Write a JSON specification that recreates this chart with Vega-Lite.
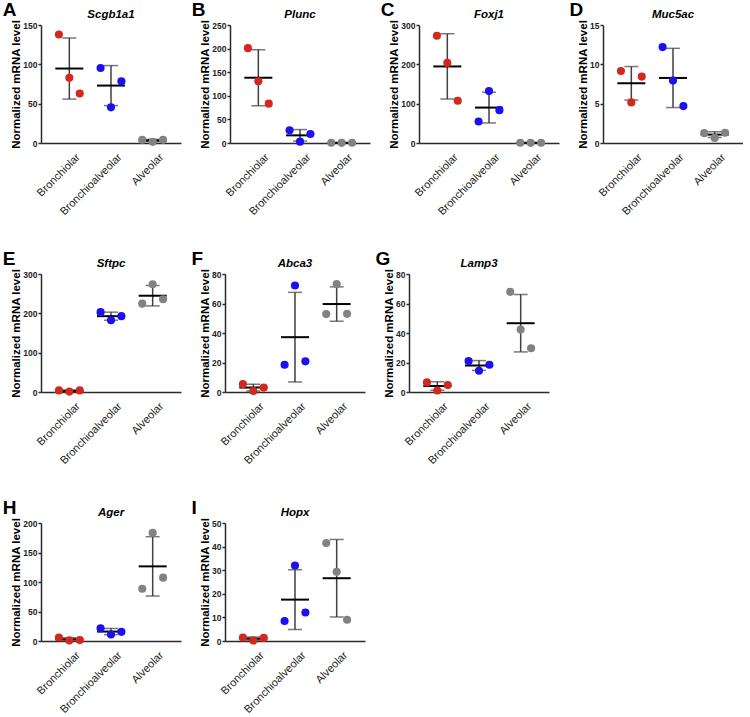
{
  "$schema": "https://vega.github.io/schema/vega-lite/v6.json",
  "background": "white",
  "padding": {"left": 2, "top": 0, "right": 0, "bottom": 0},
  "data": {"values": [
    {"gene": "Scgb1a1", "group": "Bronchiolar", "rep": 1, "value": 138},
    {"gene": "Scgb1a1", "group": "Bronchiolar", "rep": 2, "value": 83},
    {"gene": "Scgb1a1", "group": "Bronchiolar", "rep": 3, "value": 63},
    {"gene": "Scgb1a1", "group": "Bronchioalveolar", "rep": 1, "value": 95.3},
    {"gene": "Scgb1a1", "group": "Bronchioalveolar", "rep": 2, "value": 45.3},
    {"gene": "Scgb1a1", "group": "Bronchioalveolar", "rep": 3, "value": 78.4},
    {"gene": "Scgb1a1", "group": "Alveolar", "rep": 1, "value": 4},
    {"gene": "Scgb1a1", "group": "Alveolar", "rep": 2, "value": 1.5},
    {"gene": "Scgb1a1", "group": "Alveolar", "rep": 3, "value": 4},
    {"gene": "Plunc", "group": "Bronchiolar", "rep": 1, "value": 201},
    {"gene": "Plunc", "group": "Bronchiolar", "rep": 2, "value": 130.6},
    {"gene": "Plunc", "group": "Bronchiolar", "rep": 3, "value": 83.3},
    {"gene": "Plunc", "group": "Bronchioalveolar", "rep": 1, "value": 26.8},
    {"gene": "Plunc", "group": "Bronchioalveolar", "rep": 2, "value": 2.8},
    {"gene": "Plunc", "group": "Bronchioalveolar", "rep": 3, "value": 19},
    {"gene": "Plunc", "group": "Alveolar", "rep": 1, "value": 0.5},
    {"gene": "Plunc", "group": "Alveolar", "rep": 2, "value": 0.3},
    {"gene": "Plunc", "group": "Alveolar", "rep": 3, "value": 0.5},
    {"gene": "Foxj1", "group": "Bronchiolar", "rep": 1, "value": 272.8},
    {"gene": "Foxj1", "group": "Bronchiolar", "rep": 2, "value": 203.7},
    {"gene": "Foxj1", "group": "Bronchiolar", "rep": 3, "value": 107.4},
    {"gene": "Foxj1", "group": "Bronchioalveolar", "rep": 1, "value": 54.6},
    {"gene": "Foxj1", "group": "Bronchioalveolar", "rep": 2, "value": 132},
    {"gene": "Foxj1", "group": "Bronchioalveolar", "rep": 3, "value": 83.5},
    {"gene": "Foxj1", "group": "Alveolar", "rep": 1, "value": 0.6},
    {"gene": "Foxj1", "group": "Alveolar", "rep": 2, "value": 0.4},
    {"gene": "Foxj1", "group": "Alveolar", "rep": 3, "value": 0.6},
    {"gene": "Muc5ac", "group": "Bronchiolar", "rep": 1, "value": 9.16},
    {"gene": "Muc5ac", "group": "Bronchiolar", "rep": 2, "value": 5.16},
    {"gene": "Muc5ac", "group": "Bronchiolar", "rep": 3, "value": 8.44},
    {"gene": "Muc5ac", "group": "Bronchioalveolar", "rep": 1, "value": 12.19},
    {"gene": "Muc5ac", "group": "Bronchioalveolar", "rep": 2, "value": 7.93},
    {"gene": "Muc5ac", "group": "Bronchioalveolar", "rep": 3, "value": 4.69},
    {"gene": "Muc5ac", "group": "Alveolar", "rep": 1, "value": 1.25},
    {"gene": "Muc5ac", "group": "Alveolar", "rep": 2, "value": 0.65},
    {"gene": "Muc5ac", "group": "Alveolar", "rep": 3, "value": 1.3},
    {"gene": "Sftpc", "group": "Bronchiolar", "rep": 1, "value": 4},
    {"gene": "Sftpc", "group": "Bronchiolar", "rep": 2, "value": 1},
    {"gene": "Sftpc", "group": "Bronchiolar", "rep": 3, "value": 4},
    {"gene": "Sftpc", "group": "Bronchioalveolar", "rep": 1, "value": 203},
    {"gene": "Sftpc", "group": "Bronchioalveolar", "rep": 2, "value": 182.5},
    {"gene": "Sftpc", "group": "Bronchioalveolar", "rep": 3, "value": 192.8},
    {"gene": "Sftpc", "group": "Alveolar", "rep": 1, "value": 224.6},
    {"gene": "Sftpc", "group": "Alveolar", "rep": 2, "value": 274},
    {"gene": "Sftpc", "group": "Alveolar", "rep": 3, "value": 235.7},
    {"gene": "Abca3", "group": "Bronchiolar", "rep": 1, "value": 5.3},
    {"gene": "Abca3", "group": "Bronchiolar", "rep": 2, "value": 0.7},
    {"gene": "Abca3", "group": "Bronchiolar", "rep": 3, "value": 3.0},
    {"gene": "Abca3", "group": "Bronchioalveolar", "rep": 1, "value": 18.5},
    {"gene": "Abca3", "group": "Bronchioalveolar", "rep": 2, "value": 72.2},
    {"gene": "Abca3", "group": "Bronchioalveolar", "rep": 3, "value": 20.8},
    {"gene": "Abca3", "group": "Alveolar", "rep": 1, "value": 52.8},
    {"gene": "Abca3", "group": "Alveolar", "rep": 2, "value": 73.1},
    {"gene": "Abca3", "group": "Alveolar", "rep": 3, "value": 53},
    {"gene": "Lamp3", "group": "Bronchiolar", "rep": 1, "value": 6.5},
    {"gene": "Lamp3", "group": "Bronchiolar", "rep": 2, "value": 1.0},
    {"gene": "Lamp3", "group": "Bronchiolar", "rep": 3, "value": 4.7},
    {"gene": "Lamp3", "group": "Bronchioalveolar", "rep": 1, "value": 21},
    {"gene": "Lamp3", "group": "Bronchioalveolar", "rep": 2, "value": 14.4},
    {"gene": "Lamp3", "group": "Bronchioalveolar", "rep": 3, "value": 18.5},
    {"gene": "Lamp3", "group": "Alveolar", "rep": 1, "value": 67.9},
    {"gene": "Lamp3", "group": "Alveolar", "rep": 2, "value": 42.3},
    {"gene": "Lamp3", "group": "Alveolar", "rep": 3, "value": 29.7},
    {"gene": "Ager", "group": "Bronchiolar", "rep": 1, "value": 6},
    {"gene": "Ager", "group": "Bronchiolar", "rep": 2, "value": 1},
    {"gene": "Ager", "group": "Bronchiolar", "rep": 3, "value": 1.5},
    {"gene": "Ager", "group": "Bronchioalveolar", "rep": 1, "value": 21.5},
    {"gene": "Ager", "group": "Bronchioalveolar", "rep": 2, "value": 11},
    {"gene": "Ager", "group": "Bronchioalveolar", "rep": 3, "value": 15.5},
    {"gene": "Ager", "group": "Alveolar", "rep": 1, "value": 88.6},
    {"gene": "Ager", "group": "Alveolar", "rep": 2, "value": 183.5},
    {"gene": "Ager", "group": "Alveolar", "rep": 3, "value": 107.4},
    {"gene": "Hopx", "group": "Bronchiolar", "rep": 1, "value": 1.5},
    {"gene": "Hopx", "group": "Bronchiolar", "rep": 2, "value": 0.2},
    {"gene": "Hopx", "group": "Bronchiolar", "rep": 3, "value": 1.3},
    {"gene": "Hopx", "group": "Bronchioalveolar", "rep": 1, "value": 8.5},
    {"gene": "Hopx", "group": "Bronchioalveolar", "rep": 2, "value": 32},
    {"gene": "Hopx", "group": "Bronchioalveolar", "rep": 3, "value": 12.1},
    {"gene": "Hopx", "group": "Alveolar", "rep": 1, "value": 41.5},
    {"gene": "Hopx", "group": "Alveolar", "rep": 2, "value": 29.3},
    {"gene": "Hopx", "group": "Alveolar", "rep": 3, "value": 9}
  ]},
  "spacing": 32,
  "vconcat": [
    {"spacing": 10, "hconcat": [
      {"title": {"text": "A", "anchor": "start", "frame": "bounds", "fontSize": 19, "fontStyle": "normal", "fontWeight": "bold", "offset": -11, "dx": -8},
       "vconcat": [{"width": 140, "height": 118, "title": "Scgb1a1",
        "transform": [{"filter": "datum.gene === 'Scgb1a1'"}],
        "encoding": {"x": {"field": "group", "type": "nominal", "sort": ["Bronchiolar", "Bronchioalveolar", "Alveolar"], "title": null, "scale": {"domain": ["Bronchiolar", "Bronchioalveolar", "Alveolar"], "paddingInner": 0.5, "paddingOuter": 0.43}}},
        "layer": [
          {"mark": {"type": "errorbar", "extent": "stdev", "color": "#404040", "thickness": 1.5, "ticks": {"size": 14}}, "encoding": {"y": {"field": "value", "type": "quantitative", "title": "Normalized mRNA level", "scale": {"domain": [0, 150], "nice": false}, "axis": {"values": [0, 50, 100, 150]}}}},
          {"mark": {"type": "tick", "color": "black", "thickness": 2, "size": 28}, "encoding": {"y": {"aggregate": "mean", "field": "value", "type": "quantitative", "title": "Normalized mRNA level", "axis": {"values": [0, 50, 100, 150]}}}},
          {"mark": {"type": "point", "filled": true, "size": 66, "opacity": 1}, "encoding": {"y": {"field": "value", "type": "quantitative", "title": "Normalized mRNA level", "axis": {"values": [0, 50, 100, 150]}}, "xOffset": {"field": "rep", "type": "nominal", "scale": {"paddingInner": 0, "paddingOuter": 0}}, "color": {"field": "group", "type": "nominal", "scale": {"domain": ["Bronchiolar", "Bronchioalveolar", "Alveolar"], "range": ["#d2281e", "#1c10f0", "#828282"]}, "legend": null}}}
        ]}]},
      {"title": {"text": "B", "anchor": "start", "frame": "bounds", "fontSize": 19, "fontStyle": "normal", "fontWeight": "bold", "offset": -11, "dx": -8},
       "vconcat": [{"width": 140, "height": 118, "title": "Plunc",
        "transform": [{"filter": "datum.gene === 'Plunc'"}],
        "encoding": {"x": {"field": "group", "type": "nominal", "sort": ["Bronchiolar", "Bronchioalveolar", "Alveolar"], "title": null, "scale": {"domain": ["Bronchiolar", "Bronchioalveolar", "Alveolar"], "paddingInner": 0.5, "paddingOuter": 0.43}}},
        "layer": [
          {"mark": {"type": "errorbar", "extent": "stdev", "color": "#404040", "thickness": 1.5, "ticks": {"size": 14}}, "encoding": {"y": {"field": "value", "type": "quantitative", "title": "Normalized mRNA level", "scale": {"domain": [0, 250], "nice": false}, "axis": {"values": [0, 50, 100, 150, 200, 250]}}}},
          {"mark": {"type": "tick", "color": "black", "thickness": 2, "size": 28}, "encoding": {"y": {"aggregate": "mean", "field": "value", "type": "quantitative", "title": "Normalized mRNA level", "axis": {"values": [0, 50, 100, 150, 200, 250]}}}},
          {"mark": {"type": "point", "filled": true, "size": 66, "opacity": 1}, "encoding": {"y": {"field": "value", "type": "quantitative", "title": "Normalized mRNA level", "axis": {"values": [0, 50, 100, 150, 200, 250]}}, "xOffset": {"field": "rep", "type": "nominal", "scale": {"paddingInner": 0, "paddingOuter": 0}}, "color": {"field": "group", "type": "nominal", "scale": {"domain": ["Bronchiolar", "Bronchioalveolar", "Alveolar"], "range": ["#d2281e", "#1c10f0", "#828282"]}, "legend": null}}}
        ]}]},
      {"title": {"text": "C", "anchor": "start", "frame": "bounds", "fontSize": 19, "fontStyle": "normal", "fontWeight": "bold", "offset": -11, "dx": -8},
       "vconcat": [{"width": 140, "height": 118, "title": "Foxj1",
        "transform": [{"filter": "datum.gene === 'Foxj1'"}],
        "encoding": {"x": {"field": "group", "type": "nominal", "sort": ["Bronchiolar", "Bronchioalveolar", "Alveolar"], "title": null, "scale": {"domain": ["Bronchiolar", "Bronchioalveolar", "Alveolar"], "paddingInner": 0.5, "paddingOuter": 0.43}}},
        "layer": [
          {"mark": {"type": "errorbar", "extent": "stdev", "color": "#404040", "thickness": 1.5, "ticks": {"size": 14}}, "encoding": {"y": {"field": "value", "type": "quantitative", "title": "Normalized mRNA level", "scale": {"domain": [0, 300], "nice": false}, "axis": {"values": [0, 100, 200, 300]}}}},
          {"mark": {"type": "tick", "color": "black", "thickness": 2, "size": 28}, "encoding": {"y": {"aggregate": "mean", "field": "value", "type": "quantitative", "title": "Normalized mRNA level", "axis": {"values": [0, 100, 200, 300]}}}},
          {"mark": {"type": "point", "filled": true, "size": 66, "opacity": 1}, "encoding": {"y": {"field": "value", "type": "quantitative", "title": "Normalized mRNA level", "axis": {"values": [0, 100, 200, 300]}}, "xOffset": {"field": "rep", "type": "nominal", "scale": {"paddingInner": 0, "paddingOuter": 0}}, "color": {"field": "group", "type": "nominal", "scale": {"domain": ["Bronchiolar", "Bronchioalveolar", "Alveolar"], "range": ["#d2281e", "#1c10f0", "#828282"]}, "legend": null}}}
        ]}]},
      {"title": {"text": "D", "anchor": "start", "frame": "bounds", "fontSize": 19, "fontStyle": "normal", "fontWeight": "bold", "offset": -11, "dx": -8},
       "vconcat": [{"width": 140, "height": 118, "title": "Muc5ac",
        "transform": [{"filter": "datum.gene === 'Muc5ac'"}],
        "encoding": {"x": {"field": "group", "type": "nominal", "sort": ["Bronchiolar", "Bronchioalveolar", "Alveolar"], "title": null, "scale": {"domain": ["Bronchiolar", "Bronchioalveolar", "Alveolar"], "paddingInner": 0.5, "paddingOuter": 0.43}}},
        "layer": [
          {"mark": {"type": "errorbar", "extent": "stdev", "color": "#404040", "thickness": 1.5, "ticks": {"size": 14}}, "encoding": {"y": {"field": "value", "type": "quantitative", "title": "Normalized mRNA level", "scale": {"domain": [0, 15], "nice": false}, "axis": {"values": [0, 5, 10, 15]}}}},
          {"mark": {"type": "tick", "color": "black", "thickness": 2, "size": 28}, "encoding": {"y": {"aggregate": "mean", "field": "value", "type": "quantitative", "title": "Normalized mRNA level", "axis": {"values": [0, 5, 10, 15]}}}},
          {"mark": {"type": "point", "filled": true, "size": 66, "opacity": 1}, "encoding": {"y": {"field": "value", "type": "quantitative", "title": "Normalized mRNA level", "axis": {"values": [0, 5, 10, 15]}}, "xOffset": {"field": "rep", "type": "nominal", "scale": {"paddingInner": 0, "paddingOuter": 0}}, "color": {"field": "group", "type": "nominal", "scale": {"domain": ["Bronchiolar", "Bronchioalveolar", "Alveolar"], "range": ["#d2281e", "#1c10f0", "#828282"]}, "legend": null}}}
        ]}]}
    ]},
    {"spacing": 10, "hconcat": [
      {"title": {"text": "E", "anchor": "start", "frame": "bounds", "fontSize": 19, "fontStyle": "normal", "fontWeight": "bold", "offset": -11, "dx": -8},
       "vconcat": [{"width": 140, "height": 118, "title": "Sftpc",
        "transform": [{"filter": "datum.gene === 'Sftpc'"}],
        "encoding": {"x": {"field": "group", "type": "nominal", "sort": ["Bronchiolar", "Bronchioalveolar", "Alveolar"], "title": null, "scale": {"domain": ["Bronchiolar", "Bronchioalveolar", "Alveolar"], "paddingInner": 0.5, "paddingOuter": 0.43}}},
        "layer": [
          {"mark": {"type": "errorbar", "extent": "stdev", "color": "#404040", "thickness": 1.5, "ticks": {"size": 14}}, "encoding": {"y": {"field": "value", "type": "quantitative", "title": "Normalized mRNA level", "scale": {"domain": [0, 300], "nice": false}, "axis": {"values": [0, 100, 200, 300]}}}},
          {"mark": {"type": "tick", "color": "black", "thickness": 2, "size": 28}, "encoding": {"y": {"aggregate": "mean", "field": "value", "type": "quantitative", "title": "Normalized mRNA level", "axis": {"values": [0, 100, 200, 300]}}}},
          {"mark": {"type": "point", "filled": true, "size": 66, "opacity": 1}, "encoding": {"y": {"field": "value", "type": "quantitative", "title": "Normalized mRNA level", "axis": {"values": [0, 100, 200, 300]}}, "xOffset": {"field": "rep", "type": "nominal", "scale": {"paddingInner": 0, "paddingOuter": 0}}, "color": {"field": "group", "type": "nominal", "scale": {"domain": ["Bronchiolar", "Bronchioalveolar", "Alveolar"], "range": ["#d2281e", "#1c10f0", "#828282"]}, "legend": null}}}
        ]}]},
      {"title": {"text": "F", "anchor": "start", "frame": "bounds", "fontSize": 19, "fontStyle": "normal", "fontWeight": "bold", "offset": -11, "dx": -8},
       "vconcat": [{"width": 140, "height": 118, "title": "Abca3",
        "transform": [{"filter": "datum.gene === 'Abca3'"}],
        "encoding": {"x": {"field": "group", "type": "nominal", "sort": ["Bronchiolar", "Bronchioalveolar", "Alveolar"], "title": null, "scale": {"domain": ["Bronchiolar", "Bronchioalveolar", "Alveolar"], "paddingInner": 0.5, "paddingOuter": 0.43}}},
        "layer": [
          {"mark": {"type": "errorbar", "extent": "stdev", "color": "#404040", "thickness": 1.5, "ticks": {"size": 14}}, "encoding": {"y": {"field": "value", "type": "quantitative", "title": "Normalized mRNA level", "scale": {"domain": [0, 80], "nice": false}, "axis": {"values": [0, 20, 40, 60, 80]}}}},
          {"mark": {"type": "tick", "color": "black", "thickness": 2, "size": 28}, "encoding": {"y": {"aggregate": "mean", "field": "value", "type": "quantitative", "title": "Normalized mRNA level", "axis": {"values": [0, 20, 40, 60, 80]}}}},
          {"mark": {"type": "point", "filled": true, "size": 66, "opacity": 1}, "encoding": {"y": {"field": "value", "type": "quantitative", "title": "Normalized mRNA level", "axis": {"values": [0, 20, 40, 60, 80]}}, "xOffset": {"field": "rep", "type": "nominal", "scale": {"paddingInner": 0, "paddingOuter": 0}}, "color": {"field": "group", "type": "nominal", "scale": {"domain": ["Bronchiolar", "Bronchioalveolar", "Alveolar"], "range": ["#d2281e", "#1c10f0", "#828282"]}, "legend": null}}}
        ]}]},
      {"title": {"text": "G", "anchor": "start", "frame": "bounds", "fontSize": 19, "fontStyle": "normal", "fontWeight": "bold", "offset": -11, "dx": -8},
       "vconcat": [{"width": 140, "height": 118, "title": "Lamp3",
        "transform": [{"filter": "datum.gene === 'Lamp3'"}],
        "encoding": {"x": {"field": "group", "type": "nominal", "sort": ["Bronchiolar", "Bronchioalveolar", "Alveolar"], "title": null, "scale": {"domain": ["Bronchiolar", "Bronchioalveolar", "Alveolar"], "paddingInner": 0.5, "paddingOuter": 0.43}}},
        "layer": [
          {"mark": {"type": "errorbar", "extent": "stdev", "color": "#404040", "thickness": 1.5, "ticks": {"size": 14}}, "encoding": {"y": {"field": "value", "type": "quantitative", "title": "Normalized mRNA level", "scale": {"domain": [0, 80], "nice": false}, "axis": {"values": [0, 20, 40, 60, 80]}}}},
          {"mark": {"type": "tick", "color": "black", "thickness": 2, "size": 28}, "encoding": {"y": {"aggregate": "mean", "field": "value", "type": "quantitative", "title": "Normalized mRNA level", "axis": {"values": [0, 20, 40, 60, 80]}}}},
          {"mark": {"type": "point", "filled": true, "size": 66, "opacity": 1}, "encoding": {"y": {"field": "value", "type": "quantitative", "title": "Normalized mRNA level", "axis": {"values": [0, 20, 40, 60, 80]}}, "xOffset": {"field": "rep", "type": "nominal", "scale": {"paddingInner": 0, "paddingOuter": 0}}, "color": {"field": "group", "type": "nominal", "scale": {"domain": ["Bronchiolar", "Bronchioalveolar", "Alveolar"], "range": ["#d2281e", "#1c10f0", "#828282"]}, "legend": null}}}
        ]}]}
    ]},
    {"spacing": 10, "hconcat": [
      {"title": {"text": "H", "anchor": "start", "frame": "bounds", "fontSize": 19, "fontStyle": "normal", "fontWeight": "bold", "offset": -11, "dx": -8},
       "vconcat": [{"width": 140, "height": 118, "title": "Ager",
        "transform": [{"filter": "datum.gene === 'Ager'"}],
        "encoding": {"x": {"field": "group", "type": "nominal", "sort": ["Bronchiolar", "Bronchioalveolar", "Alveolar"], "title": null, "scale": {"domain": ["Bronchiolar", "Bronchioalveolar", "Alveolar"], "paddingInner": 0.5, "paddingOuter": 0.43}}},
        "layer": [
          {"mark": {"type": "errorbar", "extent": "stdev", "color": "#404040", "thickness": 1.5, "ticks": {"size": 14}}, "encoding": {"y": {"field": "value", "type": "quantitative", "title": "Normalized mRNA level", "scale": {"domain": [0, 200], "nice": false}, "axis": {"values": [0, 50, 100, 150, 200]}}}},
          {"mark": {"type": "tick", "color": "black", "thickness": 2, "size": 28}, "encoding": {"y": {"aggregate": "mean", "field": "value", "type": "quantitative", "title": "Normalized mRNA level", "axis": {"values": [0, 50, 100, 150, 200]}}}},
          {"mark": {"type": "point", "filled": true, "size": 66, "opacity": 1}, "encoding": {"y": {"field": "value", "type": "quantitative", "title": "Normalized mRNA level", "axis": {"values": [0, 50, 100, 150, 200]}}, "xOffset": {"field": "rep", "type": "nominal", "scale": {"paddingInner": 0, "paddingOuter": 0}}, "color": {"field": "group", "type": "nominal", "scale": {"domain": ["Bronchiolar", "Bronchioalveolar", "Alveolar"], "range": ["#d2281e", "#1c10f0", "#828282"]}, "legend": null}}}
        ]}]},
      {"title": {"text": "I", "anchor": "start", "frame": "bounds", "fontSize": 19, "fontStyle": "normal", "fontWeight": "bold", "offset": -11, "dx": -8},
       "vconcat": [{"width": 140, "height": 118, "title": "Hopx",
        "transform": [{"filter": "datum.gene === 'Hopx'"}],
        "encoding": {"x": {"field": "group", "type": "nominal", "sort": ["Bronchiolar", "Bronchioalveolar", "Alveolar"], "title": null, "scale": {"domain": ["Bronchiolar", "Bronchioalveolar", "Alveolar"], "paddingInner": 0.5, "paddingOuter": 0.43}}},
        "layer": [
          {"mark": {"type": "errorbar", "extent": "stdev", "color": "#404040", "thickness": 1.5, "ticks": {"size": 14}}, "encoding": {"y": {"field": "value", "type": "quantitative", "title": "Normalized mRNA level", "scale": {"domain": [0, 50], "nice": false}, "axis": {"values": [0, 10, 20, 30, 40, 50]}}}},
          {"mark": {"type": "tick", "color": "black", "thickness": 2, "size": 28}, "encoding": {"y": {"aggregate": "mean", "field": "value", "type": "quantitative", "title": "Normalized mRNA level", "axis": {"values": [0, 10, 20, 30, 40, 50]}}}},
          {"mark": {"type": "point", "filled": true, "size": 66, "opacity": 1}, "encoding": {"y": {"field": "value", "type": "quantitative", "title": "Normalized mRNA level", "axis": {"values": [0, 10, 20, 30, 40, 50]}}, "xOffset": {"field": "rep", "type": "nominal", "scale": {"paddingInner": 0, "paddingOuter": 0}}, "color": {"field": "group", "type": "nominal", "scale": {"domain": ["Bronchiolar", "Bronchioalveolar", "Alveolar"], "range": ["#d2281e", "#1c10f0", "#828282"]}, "legend": null}}}
        ]}]}
    ]}
  ],
  "config": {
    "font": "Liberation Sans",
    "view": {"stroke": null},
    "axis": {"domainColor": "#2a2a2a", "domainWidth": 1.5, "tickColor": "#2a2a2a", "tickWidth": 1.5, "labelFont": "Liberation Sans", "titleFont": "Liberation Sans", "grid": false},
    "axisX": {"labelAngle": -45, "ticks": false, "labelFontSize": 11, "labelColor": "#222222", "labelPadding": 8, "labelOffset": 5},
    "axisY": {"labelFontSize": 8.5, "labelFontWeight": "bold", "labelColor": "#222222", "tickSize": 3, "titleFontSize": 11.5, "titleFontWeight": "bold", "titleColor": "black", "titlePadding": 1, "labelPadding": 1, "labelOverlap": false},
    "title": {"font": "Liberation Sans", "fontSize": 11.5, "fontWeight": "bold", "fontStyle": "italic", "color": "black", "offset": -1}
  }
}
